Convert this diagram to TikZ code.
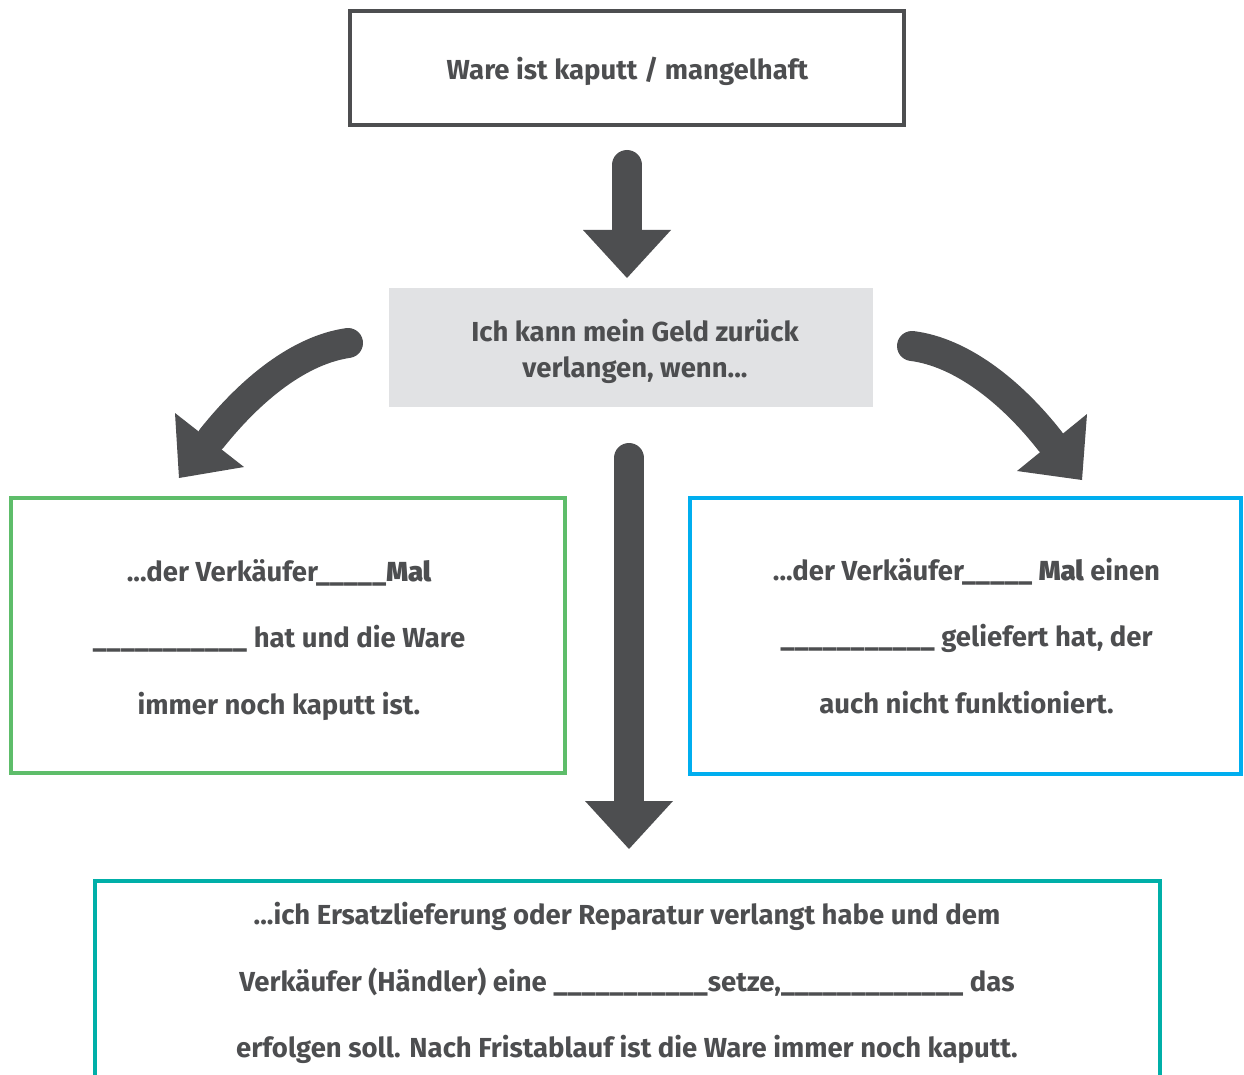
\documentclass[tikz,border=0pt]{standalone}
\usepackage{fontspec}
\setmainfont{Fira Sans}
\newfontfamily\malfont{Fira Sans}[UprightFont={* Bold},UprightFeatures={FakeBold=2}]
\definecolor{dkgray}{HTML}{4D4E50}
\definecolor{lgray}{HTML}{E1E2E4}
\definecolor{boxgreen}{HTML}{5EBD6A}
\definecolor{boxblue}{HTML}{00AEEF}
\definecolor{boxteal}{HTML}{00AFA8}
\newcommand{\malword}{{\malfont Mal}}
\tikzset{
  framebox/.style={draw, line width=4pt, rectangle, inner sep=0pt},
  txt/.style={text=dkgray, align=center, inner sep=0pt, font=\fontsize{27.5}{36}\selectfont\bfseries},
  widetxt/.style={txt, font=\fontsize{27.5}{66.5}\selectfont\bfseries},
  shaft/.style={draw=dkgray, line width=30pt, line cap=round},
  head/.style={fill=dkgray, draw=none}
}
\begin{document}
\begin{tikzpicture}[x=1pt,y=-1pt]
\clip (0,0) rectangle (1244,1075);
\fill[white] (0,0) rectangle (1244,1075);
% boxes
\node[framebox, draw=dkgray, minimum width=554pt, minimum height=114pt] (top) at (627,68) {};
\node[fill=lgray, inner sep=0pt, minimum width=484pt, minimum height=119pt] (mid) at (631,347.5) {};
\node[framebox, draw=boxgreen, minimum width=554pt, minimum height=275pt] (left) at (288,635.5) {};
\node[framebox, draw=boxblue, minimum width=551pt, minimum height=276pt] (right) at (965.5,636) {};
\node[framebox, draw=boxteal, minimum width=1065pt, minimum height=300pt] (bottom) at (627.5,1031) {};
% texts
\node[txt, anchor=base] (toptxt) at (627.5,80) {Ware ist kaputt / mangelhaft};
\node[txt] (midtxt) at (635,351) {Ich kann mein Geld zurück\\verlangen, wenn...};
\node[widetxt] (lefttxt) at (279,640) {...der Verkäufer\_\_\_\_\_\malword\\\_\_\_\_\_\_\_\_\_\_\_ hat und die Ware\\immer noch kaputt ist.};
\node[widetxt] (righttxt) at (966.5,636) {...der Verkäufer\_\_\_\_\_ \malword{} einen\\\_\_\_\_\_\_\_\_\_\_\_ geliefert hat, der\\auch nicht funktioniert.};
\node[widetxt] (bottomtxt) at (627,983) {...ich Ersatzlieferung oder Reparatur verlangt habe und dem\\Verkäufer (Händler) eine \_\_\_\_\_\_\_\_\_\_\_setze,\_\_\_\_\_\_\_\_\_\_\_\_\_ das\\erfolgen soll. Nach Fristablauf ist die Ware immer noch kaputt.};
% arrow top -> mid
\coordinate (a1s) at (627,165);
\coordinate (a1e) at (627,232);
\draw[shaft] (a1s) -- (a1e);
\fill[head] (583,230) -- (671,230) -- (627,278) -- cycle;
% arrow mid -> bottom
\coordinate (a2s) at (629,458);
\coordinate (a2e) at (629,803);
\draw[shaft] (a2s) -- (a2e);
\fill[head] (585,801) -- (673,801) -- (629,849) -- cycle;
% curved arrow left
\coordinate (a3s) at (348,343);
\coordinate (a3e) at (212,438);
\draw[shaft] (a3s) .. controls (300,350) and (252,388) .. (a3e);
\fill[head] (175,413) -- (244,467) -- (179,478) -- cycle;
% curved arrow right
\coordinate (a4s) at (912,346);
\coordinate (a4e) at (1050,441);
\draw[shaft] (a4s) .. controls (960,352) and (1010,390) .. (a4e);
\fill[head] (1087,414) -- (1017,471) -- (1082,480) -- cycle;
\end{tikzpicture}
\end{document}
